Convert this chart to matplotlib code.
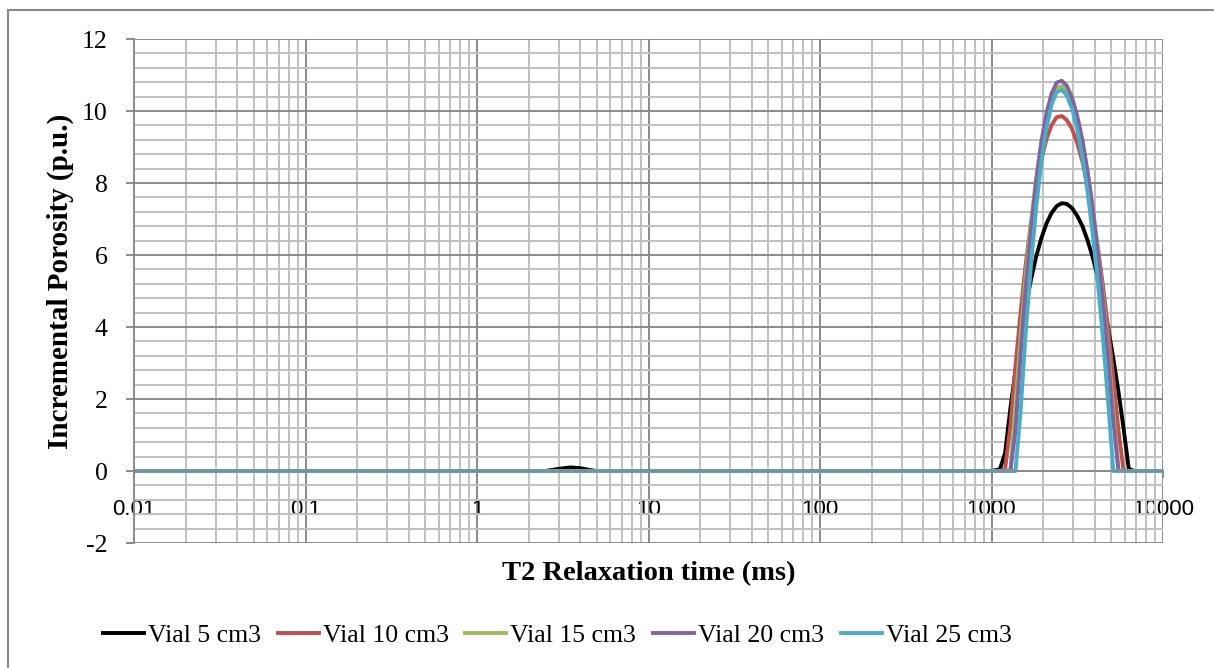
import numpy as np
import matplotlib.pyplot as plt
from matplotlib.patches import Rectangle
from matplotlib.ticker import FixedLocator, NullFormatter, FixedFormatter

plt.rcParams["axes.unicode_minus"] = False

# --- DATA ---
t2_ms = [0.01, 2.5, 3.0, 3.5, 4.0, 4.5, 5.0, 1000,
         1120, 1200, 1290, 1380, 1480, 1580, 1700, 1820, 1950, 2090,
         2240, 2400, 2570, 2750, 2950, 3160, 3390, 3630, 3890, 4170,
         4470, 4790, 5130, 5500, 5890, 6310, 6760, 10000]

vial_5 = [0, 0, 0.06, 0.10, 0.08, 0.03, 0, 0,
          0.05, 0.50, 1.76, 2.78, 3.74, 4.55, 5.32, 5.95, 6.46, 6.87,
          7.17, 7.36, 7.44, 7.42, 7.30, 7.09, 6.80, 6.41, 5.94, 5.37,
          4.72, 3.97, 3.13, 2.20, 1.18, 0.07, 0, 0]
vial_10 = [0, 0, 0, 0, 0, 0, 0, 0,
           0, 0.05, 1.29, 2.93, 4.43, 5.72, 6.90, 7.86, 8.63, 9.21,
           9.61, 9.83, 9.86, 9.75, 9.50, 9.11, 8.59, 7.93, 7.13, 6.21,
           5.13, 3.93, 2.59, 1.12, 0, 0, 0, 0]
vial_15 = [0, 0, 0, 0, 0, 0, 0, 0,
           0, 0, 0.05, 1.86, 3.78, 5.42, 6.92, 8.13, 9.12, 9.86,
           10.37, 10.65, 10.69, 10.56, 10.24, 9.76, 9.12, 8.30, 7.32, 6.16,
           4.85, 3.36, 1.70, 0.03, 0, 0, 0, 0]
vial_20 = [0, 0, 0, 0, 0, 0, 0, 0,
           0, 0, 0, 1.15, 3.27, 5.06, 6.71, 8.04, 9.11, 9.93,
           10.49, 10.79, 10.84, 10.70, 10.37, 9.87, 9.19, 8.33, 7.30, 6.09,
           4.70, 3.14, 1.39, 0, 0, 0, 0, 0]
vial_25 = [0, 0, 0, 0, 0, 0, 0, 0,
           0, 0, 0, 0, 1.70, 3.80, 5.73, 7.30, 8.57, 9.52,
           10.18, 10.53, 10.59, 10.43, 10.06, 9.49, 8.72, 7.76, 6.59, 5.23,
           3.66, 1.90, 0, 0, 0, 0, 0, 0]

series = [("Vial 5 cm3", vial_5, "#000000"),
          ("Vial 10 cm3", vial_10, "#C0504D"),
          ("Vial 15 cm3", vial_15, "#9BBB59"),
          ("Vial 20 cm3", vial_20, "#8064A2"),
          ("Vial 25 cm3", vial_25, "#4BACC6")]

x_ticks = [0.01, 0.1, 1, 10, 100, 1000, 10000]
x_labels = ["0.01", "0.1", "1", "10", "100", "1000", "10000"]
y_ticks = [-2, 0, 2, 4, 6, 8, 10, 12]

SERIF = "Liberation Serif"
MAJOR = "#8a8a8a"
MINOR = "#c0c0c0"

# --- PLOT ---
fig = plt.figure(figsize=(12.14, 6.68), dpi=100)
ax = fig.add_axes([0.1104, 0.1871, 0.8476, 0.7545])

for name, vals, col in series:
    ax.plot(t2_ms, vals, color=col, lw=2.8, label=name, solid_joinstyle="round")

ax.set_xscale("log")
ax.set_xlim(0.01, 10000)
ax.set_ylim(-2, 12)

# ticks and grid, Excel style
ax.xaxis.set_major_locator(FixedLocator(x_ticks))
ax.xaxis.set_major_formatter(FixedFormatter(x_labels))
minor_x = [m * 10.0 ** e for e in range(-2, 4) for m in range(2, 10)]
ax.xaxis.set_minor_locator(FixedLocator(minor_x))
ax.xaxis.set_minor_formatter(NullFormatter())
ax.set_yticks(y_ticks)
ax.set_yticks(np.arange(-2, 12.01, 0.4), minor=True)

ax.grid(which="major", color=MAJOR, lw=1.4)
ax.grid(which="minor", color=MINOR, lw=1.4)
ax.set_axisbelow(True)

for s in ["top", "right"]:
    ax.spines[s].set_visible(False)
ax.spines["bottom"].set_position(("data", 0))
ax.spines["left"].set_color(MAJOR)
ax.spines["bottom"].set_color(MAJOR)
ax.spines["left"].set_linewidth(1.4)
ax.spines["bottom"].set_linewidth(1.4)

ax.tick_params(axis="y", which="major", direction="out", length=6, width=1.4,
               color=MAJOR, pad=13, labelsize=18.5)
ax.tick_params(axis="x", which="major", direction="out", length=5, width=1.4,
               color=MAJOR, pad=15, labelsize=16)
ax.tick_params(which="minor", length=0)
for lab in ax.get_yticklabels():
    lab.set_fontfamily(SERIF)
for lab in ax.get_xticklabels():
    lab.set_fontfamily("Liberation Sans")

ax.set_xlabel("T2 Relaxation time (ms)", fontsize=20.5, fontweight="bold",
              fontfamily=SERIF)
ax.xaxis.set_label_coords(0.5, -0.036)
ax.xaxis.label.set_va("top")
ax.set_ylabel("Incremental Porosity (p.u.)", fontsize=21, fontweight="bold",
              fontfamily=SERIF)
ax.yaxis.set_label_coords(-0.058, 0.52)

leg = fig.legend(loc="center", bbox_to_anchor=(0.459, 0.048), ncol=5,
                 frameon=False, prop={"family": SERIF, "size": 18.5},
                 handlelength=1.6, handletextpad=0.15, columnspacing=0.65)

# outer chart border
fig.patches.append(Rectangle((0.0066, -0.05), 1.2, 1.035, transform=fig.transFigure,
                             fill=False, edgecolor="#8a8a8a", lw=1.5))

fig.savefig("out.png", dpi=100)
